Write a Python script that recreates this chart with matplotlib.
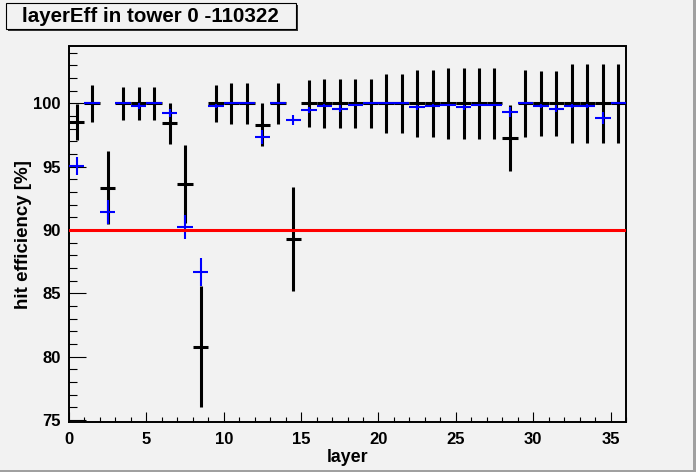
import numpy as np
import matplotlib
matplotlib.use("Agg")
import matplotlib.pyplot as plt
from matplotlib.patches import Rectangle
from matplotlib.ticker import MultipleLocator

plt.rcParams['font.family'] = ['Liberation Sans', 'DejaVu Sans']
plt.rcParams['font.weight'] = 'bold'

# layer index, points drawn at bin centre
layer = np.arange(36)

# black: efficiency with large errors
black_eff = [98.56, 100, 93.35, 100, 100, 100, 98.42, 93.66, 80.8, 100,
             100, 100, 98.34, 100, 89.27, 100, 100, 100, 100, 100,
             100, 100, 100, 100, 100, 100, 100, 100, 97.3, 100,
             100, 100, 100, 100, 100, 100]
black_err = [1.42, 1.45, 2.9, 1.3, 1.3, 1.3, 1.58, 3.1, 4.75, 1.45,
             1.65, 1.65, 1.66, 1.65, 4.1, 1.85, 1.95, 1.95, 1.95, 1.95,
             2.3, 2.3, 2.65, 2.65, 2.8, 2.8, 2.8, 2.8, 2.62, 2.65,
             2.55, 2.55, 3.15, 3.15, 3.15, 3.15]

# blue: efficiency with small errors
blue_eff = [95.05, 100, 91.42, 100, 99.8, 100, 99.24, 90.22, 86.7, 99.8,
            100, 100, 97.35, 100, 98.7, 99.48, 99.84, 99.6, 99.87, 100,
            100, 100, 99.71, 99.84, 99.87, 99.71, 99.87, 99.87, 99.32, 100,
            99.79, 99.6, 99.79, 99.79, 98.87, 100]
blue_err = [0.72, 0, 0.95, 0, 0.2, 0, 0.32, 0.95, 1.08, 0.15,
            0, 0, 0.58, 0, 0.42, 0.22, 0.12, 0.25, 0.1, 0,
            0, 0, 0.2, 0.12, 0.1, 0.2, 0.1, 0.1, 0.42, 0,
            0.18, 0.25, 0.18, 0.18, 0.47, 0]

threshold = 90

bg = '#f2f2f2'
fig = plt.figure(figsize=(6.96, 4.72), dpi=100, facecolor=bg)
ax = fig.add_axes([69/696, 1-422/472, (626-69)/696, (422-46.5)/472])
ax.set_facecolor(bg)

x = layer + 0.5
ax.errorbar(x, black_eff, xerr=0.5, yerr=black_err, fmt='none',
            ecolor='black', elinewidth=2.2, capsize=0, zorder=2)
ax.errorbar(x, blue_eff, xerr=0.5, yerr=blue_err, fmt='none',
            ecolor='#0000ff', elinewidth=1.5, capsize=0, zorder=3)
ax.axhline(threshold, color='#ff0000', lw=2.2, zorder=4)

ax.set_xlim(0, 36)
ax.set_ylim(74.85, 104.5)
ax.xaxis.set_major_locator(MultipleLocator(5))
ax.xaxis.set_minor_locator(MultipleLocator(1))
ax.yaxis.set_major_locator(MultipleLocator(5))
ax.yaxis.set_minor_locator(MultipleLocator(1))
ax.tick_params(axis='both', which='both', direction='in', width=0.8,
               top=False, right=False, labelsize=12)
ax.tick_params(axis='y', which='major', length=12)
ax.tick_params(axis='y', which='minor', length=6)
ax.tick_params(axis='x', which='major', length=7.2)
ax.tick_params(axis='x', which='minor', length=3.6)
ax.tick_params(axis='x', pad=7)
ax.tick_params(axis='y', pad=6)
for s in ax.spines.values():
    s.set_linewidth(1.4)

ax.set_xlabel('layer', fontsize=12.8, fontweight='bold', labelpad=2)
ax.set_ylabel('hit efficiency [%]', fontsize=13.5, fontweight='bold', labelpad=1)

# title box with shadow, ROOT style
fig.patches.append(Rectangle((8/696, 1-31/472), 290/696, 26/472,
                             transform=fig.transFigure, facecolor='#333333',
                             edgecolor='none', zorder=1))
fig.patches.append(Rectangle((6/696, 1-29/472), 290/696, 26/472,
                             transform=fig.transFigure, facecolor=bg,
                             edgecolor='black', lw=0.8, zorder=2))
fig.text(150/696, 1-16/472, 'layerEff in tower 0 -110322', fontsize=14.8,
         fontweight='bold', ha='center', va='center', zorder=3)

# canvas bevel on right and bottom
fig.patches.append(Rectangle((0, 0), 1, 2.5/472, transform=fig.transFigure,
                             facecolor='#a0a0a0', edgecolor='none'))
fig.patches.append(Rectangle((1-3.5/696, 0), 3.5/696, 1, transform=fig.transFigure,
                             facecolor='#a0a0a0', edgecolor='none'))

fig.savefig('out.png', dpi=100, facecolor=bg)
